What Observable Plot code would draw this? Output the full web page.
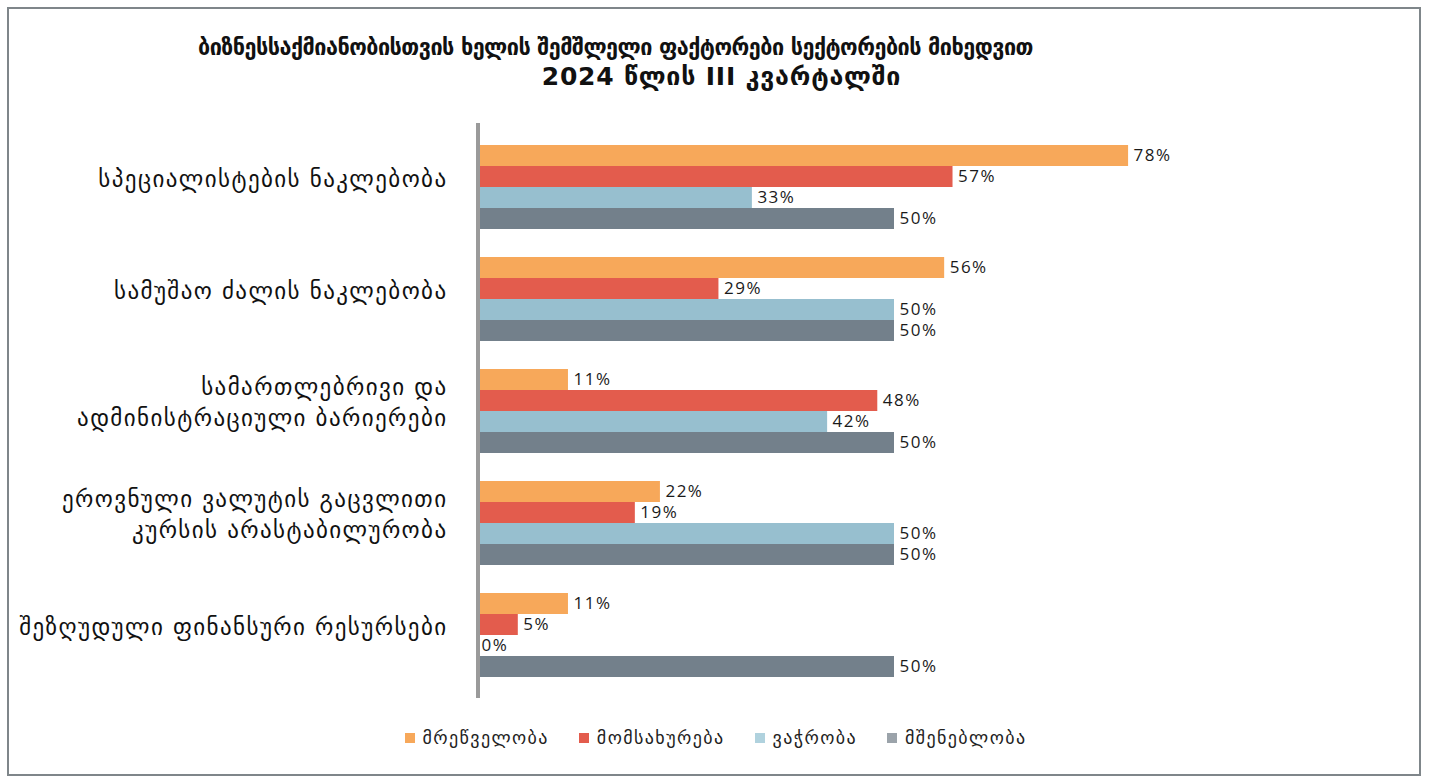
<!DOCTYPE html>
<html>
<head>
<meta charset="utf-8">
<script src="https://cdn.jsdelivr.net/npm/d3@7"></script>
<script src="https://cdn.jsdelivr.net/npm/@observablehq/plot@0.6"></script>
<style>
  body { margin: 0; background: #fff; font-family: "DejaVu Sans", sans-serif; }
  #frame { position: absolute; left: 7px; top: 7px; width: 1410px; height: 765px; border: 2px solid #7f868a; }
  #title { height: 110px; box-sizing: border-box; padding-top: 29px; text-align: center; font-weight: bold; color: #111; position: relative; }
  #title .l1 { padding-right: 200px; font-family: "DejaVu Sans Condensed", "DejaVu Sans", sans-serif; font-size: 24px; letter-spacing: -0.5px; line-height: 36px; }
  #title .l2 { padding-left: 12px; font-family: "DejaVu Sans", sans-serif; font-size: 25px; letter-spacing: 0.8px; line-height: 36px; margin-top: -6px; }
  #chart { height: 600px; position: relative; }
  #legend { position: relative; margin-top: 16px; display: flex; justify-content: center; align-items: center; font-size: 18px; letter-spacing: 1.4px; line-height: 24px; color: #222; }
  #legend .item { display: flex; align-items: center; margin: 0 15px; }
  #legend .sw { width: 10px; height: 10px; margin-right: 8px; }
  #chart g[font-size="23"] { letter-spacing: 1.4px; }
  #chart g[font-size="17"] { letter-spacing: 1.5px; }
</style>
</head>
<body>
<div id="frame"></div>
<div id="title"><div class="l1">ბიზნესსაქმიანობისთვის ხელის შემშლელი ფაქტორები სექტორების მიხედვით</div><div class="l2">2024 წლის III კვარტალში</div></div>
<div id="chart"></div>
<div id="legend"></div>
<script>
const categories = [
  "სპეციალისტების ნაკლებობა",
  "სამუშაო ძალის ნაკლებობა",
  "სამართლებრივი და\nადმინისტრაციული ბარიერები",
  "ეროვნული ვალუტის გაცვლითი\nკურსის არასტაბილურობა",
  "შეზღუდული ფინანსური რესურსები"
];
const series = ["მრეწველობა", "მომსახურება", "ვაჭრობა", "მშენებლობა"];
const manufacturing = [78, 56, 11, 22, 11];
const services = [57, 29, 48, 19, 5];
const trade = [33, 50, 42, 50, 0];
const construction = [50, 50, 50, 50, 50];
const barColors = ["#f7a85a", "#e35c4d", "#97bfcf", "#73808b"];
const legendColors = ["#f7a85a", "#e35c4d", "#b0d2de", "#9ba3aa"];

const seriesValues = [manufacturing, services, trade, construction];
const data = [];
categories.forEach((c, i) => {
  series.forEach((s, j) => data.push({category: c, series: s, value: seriesValues[j][i]}));
});

const chart = Plot.plot({
  width: 1431,
  height: 600,
  marginLeft: 476,
  marginRight: 119,
  marginTop: 21,
  marginBottom: 19,
  style: {fontFamily: "DejaVu Sans, sans-serif", background: "transparent"},
  x: {domain: [0, 100], axis: null},
  y: {domain: series, padding: 0, axis: null},
  fy: {domain: categories, paddingInner: 0.22, paddingOuter: 0.11, axis: null},
  color: {domain: series, range: barColors},
  marks: [
    Plot.barX(data, {x: "value", y: "series", fy: "category", fill: "series"}),
    Plot.text(data, {x: "value", y: "series", fy: "category", text: d => d.value + "%",
      textAnchor: "start", dx: 5, fontSize: 17, fontFamily: "Open Sans, sans-serif",
      fill: "#1a1a1a", stroke: "white", strokeWidth: 5, paintOrder: "stroke"}),
    Plot.ruleX([0], {stroke: "#9a9a9a", strokeWidth: 4, dx: 1.5, insetTop: -20, insetBottom: -20}),
    Plot.text(categories, {fy: d => d, frameAnchor: "left", dx: -29, dy: -10, textAnchor: "end",
      text: d => d, lineHeight: 1.35, fontSize: 23, fill: "#111"})
  ]
});
document.getElementById("chart").appendChild(chart);

const legend = document.getElementById("legend");
series.forEach((s, i) => {
  const item = document.createElement("div");
  item.className = "item";
  const sw = document.createElement("div");
  sw.className = "sw";
  sw.style.background = legendColors[i];
  const t = document.createElement("span");
  t.textContent = s;
  item.appendChild(sw);
  item.appendChild(t);
  legend.appendChild(item);
});
</script>
</body>
</html>
